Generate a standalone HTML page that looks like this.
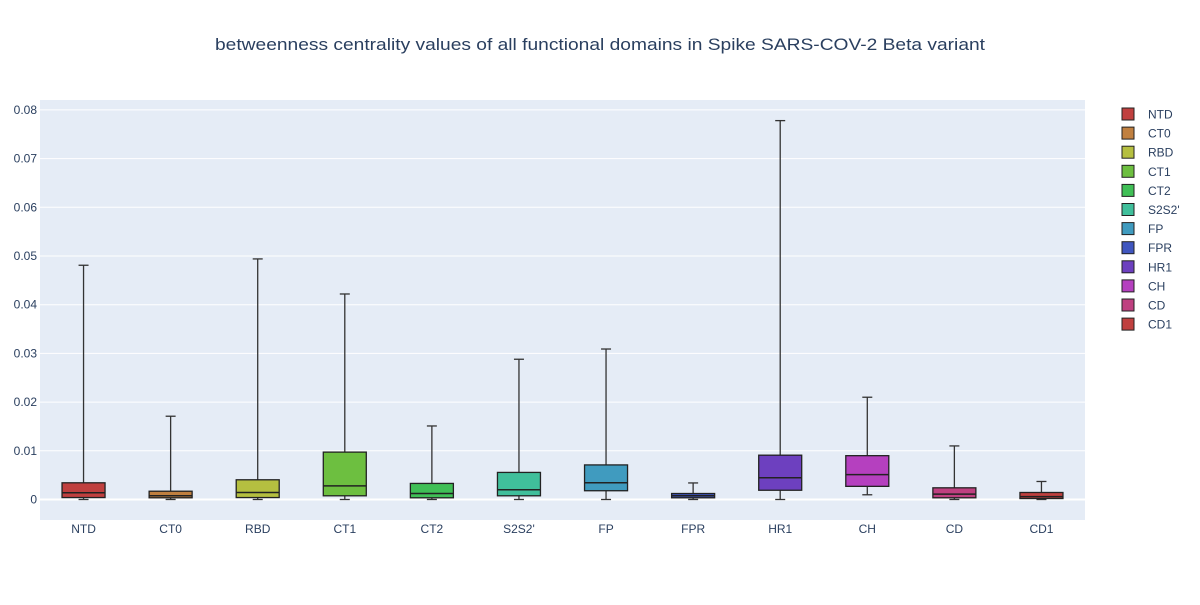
<!DOCTYPE html>
<html><head><meta charset="utf-8"><style>
body{margin:0;background:#fff;font-family:"Liberation Sans",sans-serif;}
svg text{font-family:"Liberation Sans",sans-serif;fill:#2a3f5f;}
</style></head><body>
<svg id="chart" width="1200" height="600">
<rect x="0" y="0" width="1200" height="600" fill="#fff"/>
<text x="215" y="50" font-size="17" textLength="770" lengthAdjust="spacingAndGlyphs">betweenness centrality values of all functional domains in Spike SARS-COV-2 Beta variant</text>
<rect x="40" y="100" width="1045" height="420" fill="#e5ecf6"/>
<g id="grid"></g><g id="boxes"></g><g id="legend"></g>
</svg>
<script>
const categories=["NTD","CT0","RBD","CT1","CT2","S2S2'","FP","FPR","HR1","CH","CD","CD1"];
const colors=["#c0403f","#c08040","#b5bf40","#6dbf40","#40bf56","#40bf9b","#409bbf","#4056bf","#6d40bf","#b540bf","#bf4080","#c0403f"];
const mins=[0,0,0,0,0,0,0,0,0,0.00097,0,0];
const q1s=[0.0004,0.00035,0.0004,0.00076,0.00035,0.00076,0.0018,0.00035,0.0019,0.0027,0.00035,0.0002];
const medians=[0.00138,0.00076,0.00144,0.0028,0.00123,0.002,0.00343,0.00076,0.00446,0.0051,0.0011,0.0006];
const q3s=[0.00343,0.0017,0.00405,0.00973,0.0033,0.00556,0.0071,0.00123,0.0091,0.009,0.0024,0.00144];
const maxs=[0.0481,0.0171,0.0494,0.0422,0.0151,0.0288,0.0309,0.0034,0.0778,0.021,0.011,0.0037];
const yTicks=[0,0.01,0.02,0.03,0.04,0.05,0.06,0.07,0.08];
const NS="http://www.w3.org/2000/svg";
const y=v=>499.5-v*4870;
const x=i=>40+1045/12*(i+0.5);
function mk(t,a,p){const e=document.createElementNS(NS,t);for(const k in a)e.setAttribute(k,a[k]);p.appendChild(e);return e;}
const grid=document.getElementById('grid');
yTicks.forEach(t=>{
  const l=mk('line',{x1:40,x2:1085,y1:y(t),y2:y(t),stroke:'#fff','stroke-width':t===0?2:1},grid);
  
  
  const tx=mk('text',{x:37,y:y(t)+4,'font-size':12,'text-anchor':'end'},grid);
  tx.textContent=t===0?'0':t.toFixed(2);
  
  
});
const bx=document.getElementById('boxes');
categories.forEach((c,i)=>{
  const g=mk('g',{},bx);
  
  
  const cx=x(i),w=43,cap=10;
  mk('line',{x1:cx,x2:cx,y1:y(maxs[i]),y2:y(q3s[i]),stroke:'#333','stroke-width':1.3},g);
  mk('line',{x1:cx,x2:cx,y1:y(q1s[i]),y2:y(mins[i]),stroke:'#333','stroke-width':1.3},g);
  mk('line',{x1:cx-cap/2,x2:cx+cap/2,y1:y(maxs[i]),y2:y(maxs[i]),stroke:'#333','stroke-width':1.3},g);
  mk('line',{x1:cx-cap/2,x2:cx+cap/2,y1:y(mins[i]),y2:y(mins[i]),stroke:'#333','stroke-width':1.3},g);
  mk('rect',{x:cx-w/2,y:y(q3s[i]),width:w,height:y(q1s[i])-y(q3s[i]),fill:colors[i],stroke:'#222','stroke-width':1.3},g);
  mk('line',{x1:cx-w/2,x2:cx+w/2,y1:y(medians[i]),y2:y(medians[i]),stroke:'#222','stroke-width':1.5},g);
  const t=mk('text',{x:cx,y:533,'font-size':12,'text-anchor':'middle'},bx);
  t.textContent=c;
  
  
});
const lg=document.getElementById('legend');
categories.forEach((c,i)=>{
  const g=mk('g',{},lg);
  
  
  const yy=114+i*19.1;
  mk('rect',{x:1122,y:yy-6,width:12,height:12,fill:colors[i],stroke:'#222','stroke-width':1},g);
  const t=mk('text',{x:1148,y:yy+4.5,'font-size':12},g);
  t.textContent=c;
});
</script>
</body></html>
